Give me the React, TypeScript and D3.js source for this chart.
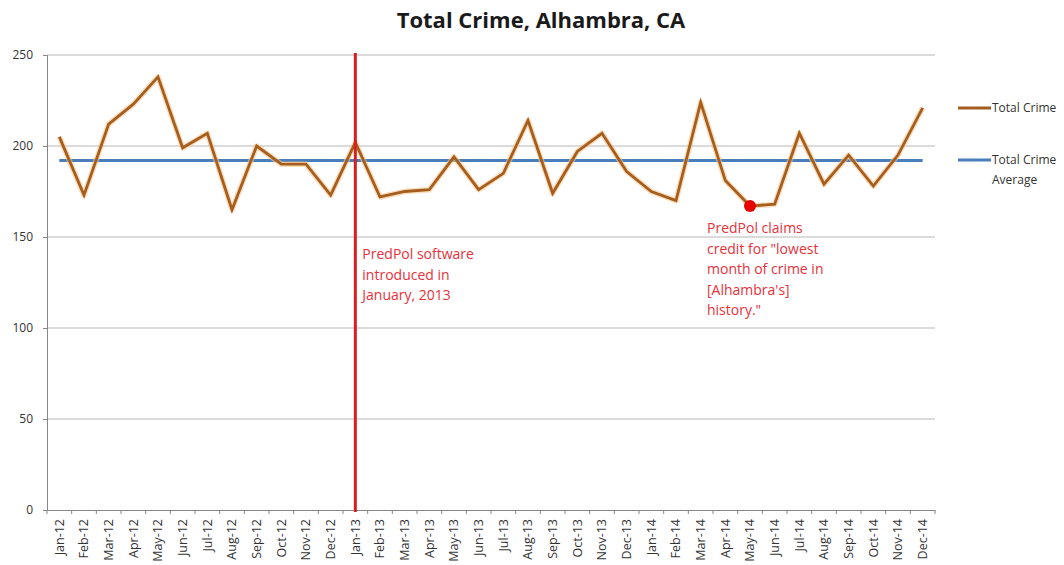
import React, { useRef, useEffect } from 'react';
import * as d3 from 'd3';

const MONTHS = [
  'Jan-12', 'Feb-12', 'Mar-12', 'Apr-12', 'May-12', 'Jun-12', 'Jul-12', 'Aug-12', 'Sep-12', 'Oct-12', 'Nov-12', 'Dec-12',
  'Jan-13', 'Feb-13', 'Mar-13', 'Apr-13', 'May-13', 'Jun-13', 'Jul-13', 'Aug-13', 'Sep-13', 'Oct-13', 'Nov-13', 'Dec-13',
  'Jan-14', 'Feb-14', 'Mar-14', 'Apr-14', 'May-14', 'Jun-14', 'Jul-14', 'Aug-14', 'Sep-14', 'Oct-14', 'Nov-14', 'Dec-14',
];

const TOTAL_CRIME = [
  205, 173, 212, 223, 238, 199, 207, 165, 200, 190, 190, 173,
  202, 172, 175, 176, 194, 176, 185, 214, 174, 197, 207, 186,
  175, 170, 224, 181, 167, 168, 207, 179, 195, 178, 195, 221,
];

const AVERAGE = 192;
const Y_TICKS = [0, 50, 100, 150, 200, 250];

const PREDPOL_START = 'Jan-13';
const LOWEST_MONTH = 'May-14';
const NOTE_START = ['PredPol software', 'introduced in', 'January, 2013'];
const NOTE_LOWEST = ['PredPol claims', 'credit for "lowest', 'month of crime in', "[Alhambra's]", 'history."'];

const FONT = '"Open Sans", "Noto Sans", sans-serif';

export default function App() {
  const svgRef = useRef<SVGSVGElement>(null);

  useEffect(() => {
    if (!svgRef.current) return;
    const svg = d3.select(svgRef.current);
    svg.selectAll('*').remove();

    const margin = { top: 55, left: 47, right: 129, bottom: 55 };
    const width = 1064 - margin.left - margin.right;
    const height = 565 - margin.top - margin.bottom;

    const g = svg.append('g').attr('transform', `translate(${margin.left},${margin.top})`);

    const x = d3.scaleBand().domain(MONTHS).range([0, width]);
    const y = d3.scaleLinear().domain([0, 250]).range([height, 0]);
    const cx = (m: string) => (x(m) || 0) + x.bandwidth() / 2;

    // title
    svg
      .append('text')
      .attr('x', 541)
      .attr('y', 28)
      .attr('text-anchor', 'middle')
      .attr('font-family', FONT)
      .attr('font-weight', 'bold')
      .attr('font-size', 22)
      .attr('fill', '#1a1a1a')
      .text('Total Crime, Alhambra, CA');

    // gridlines
    g.selectAll('.grid')
      .data(Y_TICKS.filter((t) => t > 0))
      .enter()
      .append('line')
      .attr('x1', 0)
      .attr('x2', width)
      .attr('y1', (d) => y(d))
      .attr('y2', (d) => y(d))
      .attr('stroke', '#b8b8b8')
      .attr('stroke-width', 1.2);

    // y axis
    const yAxis = g.append('g').call(d3.axisLeft(y).tickValues(Y_TICKS).tickSize(4).tickPadding(10));
    yAxis.selectAll('text').attr('font-family', FONT).attr('font-size', 12).attr('fill', '#333');

    // x axis
    const xAxis = g
      .append('g')
      .attr('transform', `translate(0,${height})`)
      .call(d3.axisBottom(x).tickSize(0).tickPadding(8));
    xAxis
      .selectAll('text')
      .attr('font-family', FONT)
      .attr('font-size', 12.5)
      .attr('fill', '#333')
      .attr('transform', 'rotate(-90)')
      .attr('text-anchor', 'end')
      .attr('dy', '0.35em')
      .attr('x', -9)
      .attr('y', 0);
    xAxis
      .selectAll('.boundary')
      .data(d3.range(MONTHS.length + 1))
      .enter()
      .append('line')
      .attr('x1', (i) => i * x.step())
      .attr('x2', (i) => i * x.step())
      .attr('y1', 0)
      .attr('y2', 4)
      .attr('stroke', '#868686');

    svg.selectAll('.domain').attr('stroke', '#868686');
    svg.selectAll('.tick line').attr('stroke', '#868686');

    // average line
    g.append('line')
      .attr('x1', cx(MONTHS[0]))
      .attr('x2', cx(MONTHS[MONTHS.length - 1]))
      .attr('y1', y(AVERAGE))
      .attr('y2', y(AVERAGE))
      .attr('stroke', '#4a7ebb')
      .attr('stroke-width', 3);

    // total crime line
    const line = d3
      .line<number>()
      .x((_, i) => cx(MONTHS[i]))
      .y((d) => y(d));
    g.append('path')
      .datum(TOTAL_CRIME)
      .attr('d', line)
      .attr('fill', 'none')
      .attr('stroke', '#f6c48e')
      .attr('stroke-opacity', 0.6)
      .attr('stroke-width', 5.5)
      .attr('stroke-linejoin', 'round');
    g.append('path')
      .datum(TOTAL_CRIME)
      .attr('d', line)
      .attr('fill', 'none')
      .attr('stroke', '#a65e1e')
      .attr('stroke-width', 2.8)
      .attr('stroke-linejoin', 'miter');

    // PredPol start marker
    g.append('line')
      .attr('x1', cx(PREDPOL_START))
      .attr('x2', cx(PREDPOL_START))
      .attr('y1', y(250) - 2)
      .attr('y2', height + 2)
      .attr('stroke', '#d81e1e')
      .attr('stroke-width', 3);

    // lowest month marker
    const lowIdx = MONTHS.indexOf(LOWEST_MONTH);
    g.append('circle')
      .attr('cx', cx(LOWEST_MONTH))
      .attr('cy', y(TOTAL_CRIME[lowIdx]))
      .attr('r', 6)
      .attr('fill', '#e60000');

    const note = (lines: string[], xPos: number, yPos: number) => {
      const t = g
        .append('text')
        .attr('font-family', FONT)
        .attr('font-size', 14)
        .attr('fill', '#e8313a');
      lines.forEach((l, i) => {
        t.append('tspan')
          .attr('x', xPos)
          .attr('y', yPos + i * 20.5)
          .text(l);
      });
    };
    note(NOTE_START, cx(PREDPOL_START) + 7, y(150) + 22);
    note(NOTE_LOWEST, cx(LOWEST_MONTH) - 43, y(150) - 4);

    // legend
    const legend = svg.append('g').attr('transform', 'translate(958,0)');
    const items = [
      { label: ['Total Crime'], color: '#a65e1e', y: 108 },
      { label: ['Total Crime', 'Average'], color: '#4a7ebb', y: 160 },
    ];
    items.forEach((it) => {
      legend
        .append('line')
        .attr('x1', 0)
        .attr('x2', 33)
        .attr('y1', it.y)
        .attr('y2', it.y)
        .attr('stroke', it.color)
        .attr('stroke-width', 3);
      const t = legend
        .append('text')
        .attr('font-family', FONT)
        .attr('font-size', 12)
        .attr('fill', '#333');
      it.label.forEach((l, i) => {
        t.append('tspan')
          .attr('x', 34)
          .attr('y', it.y + 4 + i * 20)
          .text(l);
      });
    });
  }, []);

  return (
    <svg
      ref={svgRef}
      width={1064}
      height={565}
      style={{ position: 'absolute', left: 0, top: 0, background: '#fff' }}
    />
  );
}
